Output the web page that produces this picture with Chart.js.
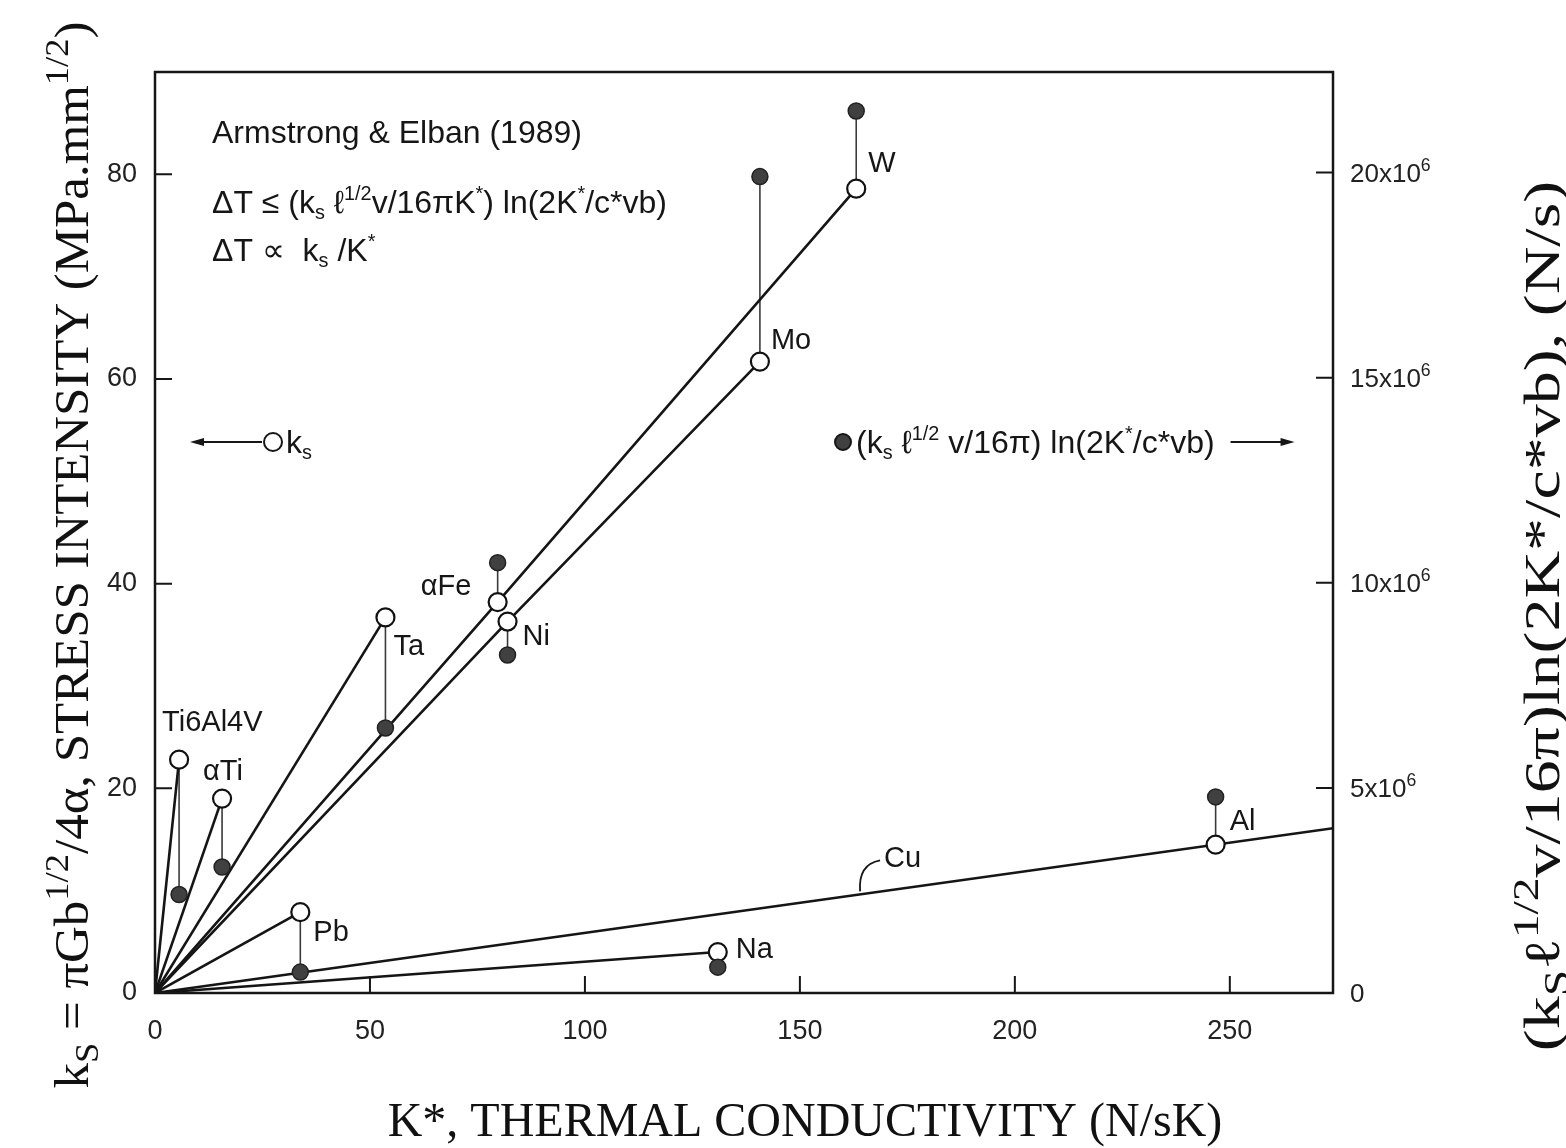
<!DOCTYPE html>
<html>
<head>
<meta charset="utf-8">
<script src="https://cdn.jsdelivr.net/npm/chart.js@4.4.0/dist/chart.umd.min.js"></script>
<style>
  html, body { margin: 0; padding: 0; background: #fff; }
  #wrap { width: 1566px; height: 1148px; }
</style>
</head>
<body>
<div id="wrap"><canvas id="diagram" width="1566" height="1148"></canvas></div>
<script>
// materials, K* (N/sK), ks (MPa.mm^1/2) and the heating term (N/s)
const materials = ["Ti6Al4V", "αTi", "Pb", "Ta", "αFe", "Ni", "Mo", "W", "Na", "Al"];
const conductivity = [5.6, 15.6, 33.8, 53.6, 79.7, 82.0, 140.7, 163.1, 130.9, 246.7];
const stressIntensity = [22.8, 19.0, 7.9, 36.7, 38.2, 36.3, 61.7, 78.6, 4.0, 14.5];
const heatTerm = [2.4e6, 3.07e6, 0.51e6, 6.46e6, 10.49e6, 8.24e6, 19.9e6, 21.5e6, 0.63e6, 4.78e6];

// straight lines from the origin through the open points (indices into the arrays above)
const rays = [[0], [1], [2], [3], [4, 7], [5, 6], [8]];
// Cu line runs through Al out to the frame
const cuLineK = [0, 274];
const cuLineKs = [0, 16.1];

const xTicks = [0, 50, 100, 150, 200, 250];
const yTicks = [0, 20, 40, 60, 80];
const y2Ticks = [0, 5e6, 10e6, 15e6, 20e6];

// label placement next to each open circle, in pixels
const labelOffsets = [[-17, -37], [-19, -27], [13, 21], [8, 30], [-77, -15], [15, 15], [11, -21], [12, -25], [18, -2], [14, -23]];

const SANS = '"Liberation Sans", Arial, sans-serif';
const SERIF = '"Liberation Serif", "Times New Roman", serif';
const INK = "#161616";

// text with sub/superscripts: parts = [[text, mode]], mode 1 = sub, -1 = sup
function richText(ctx, parts, x, y, size, family, align, ratio = 0.62) {
  const small = size * ratio;
  let w = 0;
  parts.forEach(([t, m]) => {
    ctx.font = `${m ? small : size}px ${family}`;
    w += ctx.measureText(t).width;
  });
  let cx = align === "center" ? x - w / 2 : x;
  ctx.textAlign = "left";
  ctx.textBaseline = "alphabetic";
  parts.forEach(([t, m]) => {
    ctx.font = `${m ? small : size}px ${family}`;
    const dy = m === 1 ? size * 0.2 : m === -1 ? -size * 0.42 : 0;
    ctx.fillText(t, cx, y + dy);
    cx += ctx.measureText(t).width;
  });
  return w;
}

function arrow(ctx, x1, x2, y) {
  const dir = Math.sign(x2 - x1);
  ctx.beginPath();
  ctx.moveTo(x1, y);
  ctx.lineTo(x2 - dir * 8, y);
  ctx.stroke();
  ctx.beginPath();
  ctx.moveTo(x2, y);
  ctx.lineTo(x2 - dir * 14, y - 4);
  ctx.lineTo(x2 - dir * 14, y + 4);
  ctx.closePath();
  ctx.fill();
}

function verticalTitle(ctx, parts, cx, cy, size, stretch) {
  ctx.save();
  ctx.translate(cx, cy);
  ctx.rotate(-Math.PI / 2);
  ctx.scale(stretch, 1);
  richText(ctx, parts, 0, size * 0.34, size, SERIF, "center", 0.72);
  ctx.restore();
}

const figurePlugin = {
  id: "figure",
  beforeDatasetsDraw(chart) {
    const { ctx, scales } = chart;
    // thin connectors between ks and the heating term of each material
    ctx.save();
    ctx.strokeStyle = "#3a3a3a";
    ctx.lineWidth = 1.6;
    materials.forEach((m, i) => {
      const px = scales.x.getPixelForValue(conductivity[i]);
      ctx.beginPath();
      ctx.moveTo(px, scales.y.getPixelForValue(stressIntensity[i]));
      ctx.lineTo(px, scales.y2.getPixelForValue(heatTerm[i]));
      ctx.stroke();
    });
    ctx.restore();
  },
  afterDraw(chart) {
    const { ctx, chartArea: a, scales } = chart;
    ctx.save();
    ctx.strokeStyle = INK;
    ctx.fillStyle = INK;

    // frame
    ctx.lineWidth = 2.5;
    ctx.strokeRect(a.left, a.top, a.right - a.left, a.bottom - a.top);

    // inward tick marks
    ctx.lineWidth = 2;
    const len = 17;
    ctx.beginPath();
    xTicks.filter(v => v > 0).forEach(v => {
      const p = scales.x.getPixelForValue(v);
      ctx.moveTo(p, a.bottom); ctx.lineTo(p, a.bottom - len);
    });
    yTicks.filter(v => v > 0).forEach(v => {
      const p = scales.y.getPixelForValue(v);
      ctx.moveTo(a.left, p); ctx.lineTo(a.left + len, p);
    });
    y2Ticks.filter(v => v > 0).forEach(v => {
      const p = scales.y2.getPixelForValue(v);
      ctx.moveTo(a.right, p); ctx.lineTo(a.right - len, p);
    });
    ctx.stroke();

    // right-hand tick labels, written as n x 10^6
    ctx.fillStyle = "#222";
    y2Ticks.forEach(v => {
      const p = scales.y2.getPixelForValue(v) + 9;
      const parts = v === 0 ? [["0", 0]] : [[v / 1e6 + "x10", 0], ["6", -1]];
      richText(ctx, parts, a.right + 17, p, 26, SANS, "left", 0.68);
    });

    // material labels
    ctx.fillStyle = INK;
    ctx.font = `29px ${SANS}`;
    ctx.textAlign = "left";
    ctx.textBaseline = "middle";
    materials.forEach((m, i) => {
      const px = scales.x.getPixelForValue(conductivity[i]);
      const py = scales.y.getPixelForValue(stressIntensity[i]);
      ctx.fillText(m, px + labelOffsets[i][0], py + labelOffsets[i][1]);
    });

    // Cu label with its curved leader
    const cuK = 164;
    const cx = scales.x.getPixelForValue(cuK);
    const cy = scales.y.getPixelForValue(cuK * cuLineKs[1] / cuLineK[1]);
    ctx.lineWidth = 1.8;
    ctx.beginPath();
    ctx.moveTo(cx, cy - 3);
    ctx.quadraticCurveTo(cx - 2, cy - 30, cx + 20, cy - 34);
    ctx.stroke();
    ctx.fillText("Cu", cx + 24, cy - 35);

    // annotation block
    richText(ctx, [["Armstrong & Elban (1989)", 0]], 212, 143, 32, SANS);
    richText(ctx, [["ΔT ≤ (k", 0], ["s", 1], [" ℓ", 0], ["1/2", -1], ["v/16πK", 0], ["*", -1],
      [") ln(2K", 0], ["*", -1], ["/c*vb)", 0]], 212, 213, 32, SANS);
    richText(ctx, [["ΔT ∝  k", 0], ["s", 1], [" /K", 0], ["*", -1]], 212, 261, 32, SANS);

    // series keys
    ctx.lineWidth = 2;
    arrow(ctx, 262, 190, 442);
    ctx.fillStyle = "#fff";
    ctx.beginPath(); ctx.arc(273, 442, 9, 0, Math.PI * 2); ctx.fill(); ctx.stroke();
    ctx.fillStyle = INK;
    richText(ctx, [["k", 0], ["s", 1]], 286, 453, 32, SANS);

    ctx.fillStyle = "#404040";
    ctx.beginPath(); ctx.arc(843, 442, 8, 0, Math.PI * 2); ctx.fill(); ctx.stroke();
    ctx.fillStyle = INK;
    const w = richText(ctx, [["(k", 0], ["s", 1], [" ℓ", 0], ["1/2", -1], [" v/16π) ln(2K", 0], ["*", -1],
      ["/c*vb)", 0]], 856, 453, 32, SANS);
    arrow(ctx, 856 + w + 16, 856 + w + 80, 442);

    // axis titles
    ctx.fillStyle = "#111";
    richText(ctx, [["K*, THERMAL CONDUCTIVITY (N/sK)", 0]], 805, 1136, 48, SERIF, "center");
    verticalTitle(ctx, [["k", 0], ["S", 1], [" = πGb", 0], ["1/2", -1], ["/4α, STRESS INTENSITY (MPa.mm", 0],
      ["1/2", -1], [")", 0]], 72, 555, 48, 1.06);
    verticalTitle(ctx, [["(k", 0], ["S", 1], ["ℓ", 0], ["1/2", -1], ["v/16π)ln(2K*/c*vb), (N/s)", 0]],
      1542, 616, 50, 1.32);

    ctx.restore();
  }
};

const point = (i) => ({ x: conductivity[i], y: stressIntensity[i] });
const lineSets = rays.map(ix => [{ x: 0, y: 0 }, ...ix.map(point)]);
lineSets.push(cuLineK.map((k, i) => ({ x: k, y: cuLineKs[i] })));

const datasets = lineSets.map(d => ({
  data: d,
  showLine: true,
  borderColor: "#151515",
  borderWidth: 2.6,
  pointRadius: 0,
  tension: 0,
  yAxisID: "y",
  order: 3,
}));
datasets.push({
  data: materials.map((m, i) => point(i)),
  showLine: false,
  pointRadius: 9,
  pointBackgroundColor: "#fff",
  pointBorderColor: "#111",
  pointBorderWidth: 2.2,
  yAxisID: "y",
  order: 2,
});
datasets.push({
  data: materials.map((m, i) => ({ x: conductivity[i], y: heatTerm[i] })),
  showLine: false,
  pointRadius: 8,
  pointBackgroundColor: "#404040",
  pointBorderColor: "#222",
  pointBorderWidth: 1.5,
  yAxisID: "y2",
  order: 1,
});

const tickFont = { family: SANS, size: 27 };
const ctx = document.querySelector("#diagram").getContext("2d");
new Chart(ctx, {
  type: "scatter",
  data: { datasets },
  options: {
    responsive: false,
    animation: false,
    layout: { padding: { top: 72, left: 0, right: 0, bottom: 0 } },
    plugins: { legend: { display: false }, tooltip: { enabled: false } },
    scales: {
      x: {
        type: "linear",
        min: 0,
        max: 274,
        grid: { display: false, drawTicks: false },
        border: { display: false },
        afterBuildTicks: s => { s.ticks = xTicks.map(v => ({ value: v })); },
        ticks: { padding: 22, font: tickFont, color: "#222", maxRotation: 0, autoSkip: false },
        afterFit: s => { s.height = 155; },
      },
      y: {
        type: "linear",
        position: "left",
        min: 0,
        max: 90,
        grid: { display: false, drawTicks: false },
        border: { display: false },
        afterBuildTicks: s => { s.ticks = yTicks.map(v => ({ value: v })); },
        ticks: { padding: 18, font: tickFont, color: "#222" },
        afterFit: s => { s.width = 155; },
      },
      y2: {
        type: "linear",
        position: "right",
        min: 0,
        max: 22.45e6,
        grid: { display: false, drawTicks: false },
        border: { display: false },
        afterBuildTicks: s => { s.ticks = y2Ticks.map(v => ({ value: v })); },
        ticks: { display: false },
        afterFit: s => { s.width = 233; },
      },
    },
  },
  plugins: [figurePlugin],
});
</script>
</body>
</html>
